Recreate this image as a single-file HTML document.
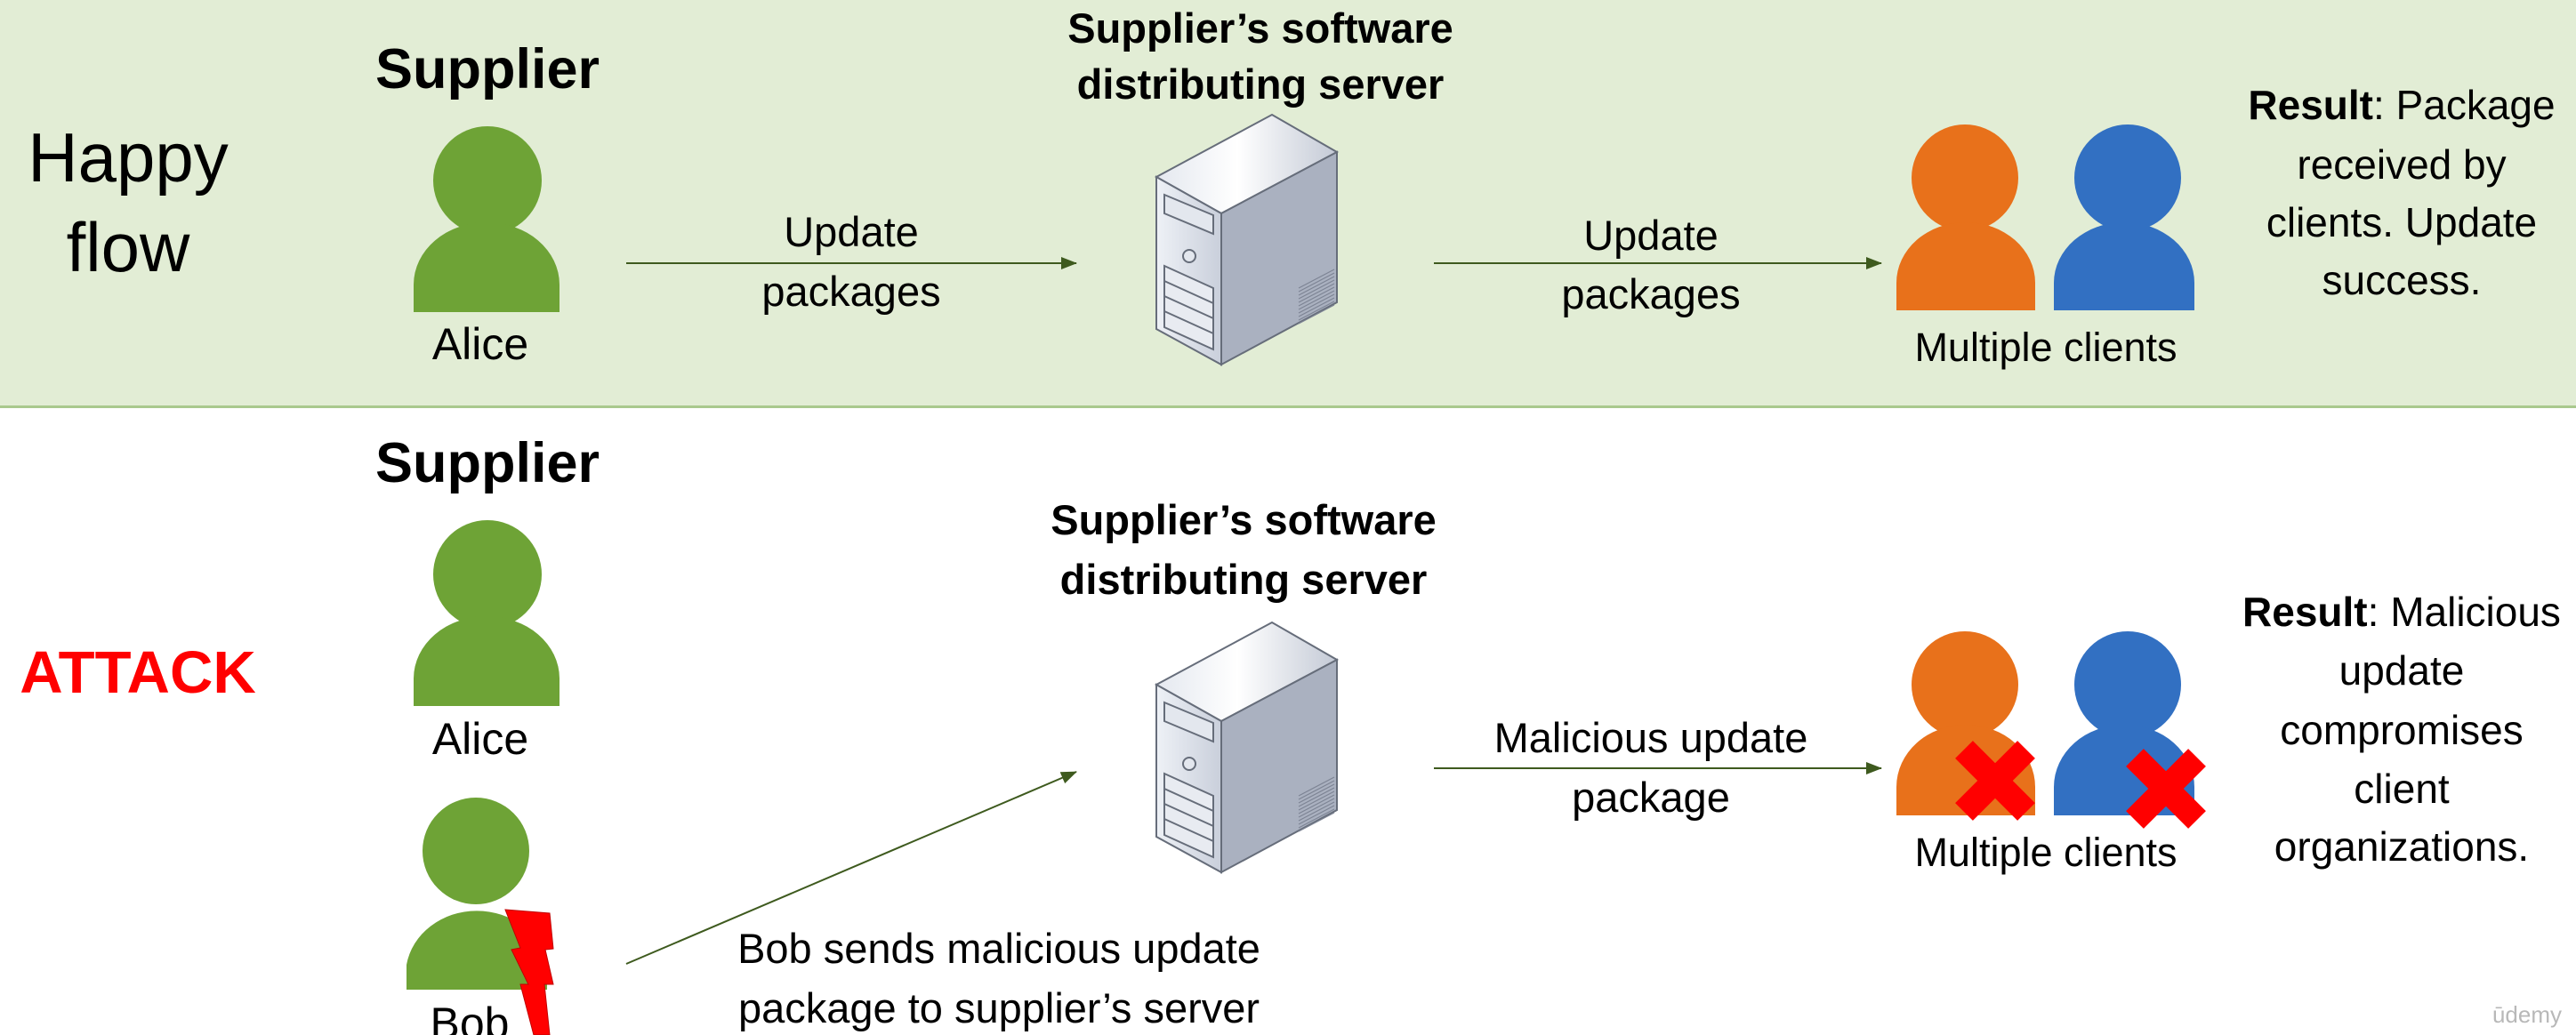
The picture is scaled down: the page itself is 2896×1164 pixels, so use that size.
<!DOCTYPE html>
<html><head><meta charset="utf-8"><style>
html,body{margin:0;padding:0;background:#fff;}
svg{display:block;}
text{font-family:"Liberation Sans",sans-serif;fill:#000;}
.b{font-weight:bold;}
</style></head><body>
<svg width="2896" height="1164" viewBox="0 0 2896 1164" xmlns="http://www.w3.org/2000/svg">
<defs>
<marker id="ar" markerWidth="18" markerHeight="14" refX="17" refY="7" orient="auto" markerUnits="userSpaceOnUse">
<path d="M0,0 L18,7 L0,14 Z" fill="#3e5a1e"/>
</marker>
<linearGradient id="sf" x1="0" y1="0" x2="1" y2="0"><stop offset="0" stop-color="#eef1f6"/><stop offset="1" stop-color="#c9cfdb"/></linearGradient>
<linearGradient id="st" x1="0" y1="0" x2="1" y2="0"><stop offset="0" stop-color="#e4e8ef"/><stop offset="0.45" stop-color="#ffffff"/><stop offset="1" stop-color="#c4cad6"/></linearGradient>
<g id="server">
<polygon points="0,70 130,0 203,42 73,111" fill="url(#st)" stroke="#666d7a" stroke-width="2"/>
<polygon points="73,111 203,42 203,211 73,281" fill="#aab1c0" stroke="#666d7a" stroke-width="2"/>
<polygon points="0,70 73,111 73,281 0,241" fill="url(#sf)" stroke="#666d7a" stroke-width="2"/>
<polygon points="9,90 64,113 64,134 9,111" fill="#e3e7ee" stroke="#666d7a" stroke-width="2"/>
<circle cx="37" cy="159" r="7" fill="#e3e7ee" stroke="#666d7a" stroke-width="2"/>
<polygon points="9,170 64,195 64,264 9,239" fill="#e8ebf1" stroke="#666d7a" stroke-width="2"/>
<path d="M9,187 L64,212 M9,204 L64,229 M9,221 L64,246" stroke="#666d7a" stroke-width="2"/>
<path d="M160,195 L200,174 M160,199 L200,178 M160,203 L200,182 M160,207 L200,186 M160,211 L200,190 M160,215 L200,194 M160,219 L200,198 M160,223 L200,202 M160,227 L200,206 M160,231 L200,210 M160,235 L200,214" stroke="#7d8494" stroke-width="1.2"/>
</g>
</defs>

<rect x="0" y="0" width="2896" height="457" fill="#e2edd5"/>
<rect x="0" y="456" width="2896" height="3" fill="#a9c98d"/>

<text x="144" y="204" font-size="78" text-anchor="middle">Happy</text>
<text x="144" y="305" font-size="78" text-anchor="middle">flow</text>

<text x="548" y="99" font-size="63" class="b" text-anchor="middle">Supplier</text>
<circle cx="548" cy="203" r="61" fill="#6ea336"/>
<path d="M465,351 V320 A82,70 0 0 1 629,320 V351 Z" fill="#6ea336"/>
<text x="540" y="404" font-size="50" text-anchor="middle">Alice</text>

<line x1="704" y1="296" x2="1210" y2="296" stroke="#3e5a1e" stroke-width="2" marker-end="url(#ar)"/>
<text x="957" y="277" font-size="47" text-anchor="middle">Update</text>
<text x="957" y="344" font-size="47" text-anchor="middle">packages</text>

<text x="1417" y="48" font-size="47" class="b" text-anchor="middle">Supplier’s software</text>
<text x="1417" y="111" font-size="47" class="b" text-anchor="middle">distributing server</text>
<use href="#server" x="1300" y="129"/>

<line x1="1612" y1="296" x2="2115" y2="296" stroke="#3e5a1e" stroke-width="2" marker-end="url(#ar)"/>
<text x="1856" y="281" font-size="47" text-anchor="middle">Update</text>
<text x="1856" y="347" font-size="47" text-anchor="middle">packages</text>

<circle cx="2209" cy="200" r="60" fill="#e8711b"/>
<path d="M2132,349 V318 A78,68 0 0 1 2288,318 V349 Z" fill="#e8711b"/>
<circle cx="2392" cy="200" r="60" fill="#3270c2"/>
<path d="M2309,349 V318 A79,68 0 0 1 2467,318 V349 Z" fill="#3270c2"/>
<text x="2300" y="406" font-size="45" text-anchor="middle">Multiple clients</text>

<g font-size="46" text-anchor="middle">
<text x="2700" y="134"><tspan class="b">Result</tspan>: Package</text>
<text x="2700" y="201">received by</text>
<text x="2700" y="266">clients. Update</text>
<text x="2700" y="331">success.</text>
</g>

<text x="155" y="779" font-size="67" class="b" text-anchor="middle" style="fill:#ff0000">ATTACK</text>

<text x="548" y="542" font-size="63" class="b" text-anchor="middle">Supplier</text>
<circle cx="548" cy="646" r="61" fill="#6ea336"/>
<path d="M465,794 V763 A82,70 0 0 1 629,763 V794 Z" fill="#6ea336"/>
<text x="540" y="848" font-size="50" text-anchor="middle">Alice</text>

<circle cx="535" cy="957" r="60" fill="#6ea336"/>
<path d="M457,1113 V1085 A80,72 0 0 1 615,1085 V1113 Z" fill="#6ea336"/>
<polygon points="568,1023 618,1027 622,1067 613,1068 622,1107 612,1107 618,1164 600,1164 585,1107 594,1107 575,1068 585,1066" fill="#ff0000" stroke="#c00000" stroke-width="1"/>
<text x="528" y="1168" font-size="50" text-anchor="middle">Bob</text>

<line x1="704" y1="1084" x2="1210" y2="868" stroke="#3e5a1e" stroke-width="2" marker-end="url(#ar)"/>
<text x="1123" y="1083" font-size="47" text-anchor="middle">Bob sends malicious update</text>
<text x="1123" y="1150" font-size="47" text-anchor="middle">package to supplier’s server</text>

<text x="1398" y="601" font-size="47" class="b" text-anchor="middle">Supplier’s software</text>
<text x="1398" y="668" font-size="47" class="b" text-anchor="middle">distributing server</text>
<use href="#server" x="1300" y="700"/>

<line x1="1612" y1="864" x2="2115" y2="864" stroke="#3e5a1e" stroke-width="2" marker-end="url(#ar)"/>
<text x="1856" y="846" font-size="47" text-anchor="middle">Malicious update</text>
<text x="1856" y="913" font-size="47" text-anchor="middle">package</text>

<circle cx="2209" cy="770" r="60" fill="#e8711b"/>
<path d="M2132,917 V885 A78,70 0 0 1 2288,885 V917 Z" fill="#e8711b"/>
<circle cx="2392" cy="770" r="60" fill="#3270c2"/>
<path d="M2309,917 V885 A79,70 0 0 1 2467,885 V917 Z" fill="#3270c2"/>
<g stroke="#ff0000" stroke-width="28">
<line x1="2208" y1="843" x2="2278" y2="913"/><line x1="2278" y1="843" x2="2208" y2="913"/>
<line x1="2400" y1="852" x2="2470" y2="922"/><line x1="2470" y1="852" x2="2400" y2="922"/>
</g>
<text x="2300" y="974" font-size="45" text-anchor="middle">Multiple clients</text>

<g font-size="46" text-anchor="middle">
<text x="2700" y="704"><tspan class="b">Result</tspan>: Malicious</text>
<text x="2700" y="770">update</text>
<text x="2700" y="837">compromises</text>
<text x="2700" y="903">client</text>
<text x="2700" y="968">organizations.</text>
</g>
<text x="2880" y="1150" font-size="26" text-anchor="end" style="fill:#b8b8b8">ūdemy</text>
</svg>
</body></html>
